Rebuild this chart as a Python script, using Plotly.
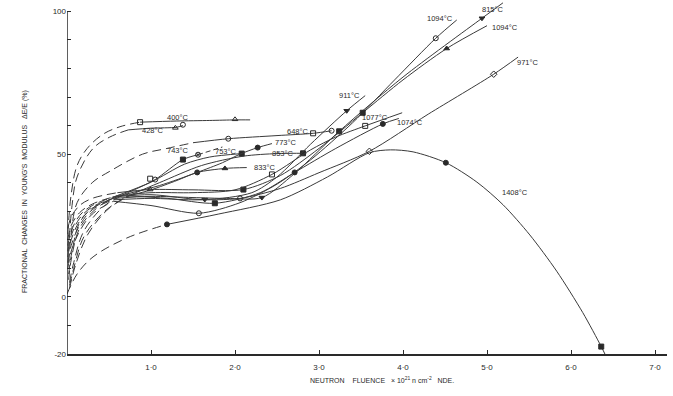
import plotly.graph_objects as go

# ---------------- data ----------------
# x: neutron fluence (1e21 n cm^-2 NDE), y: fractional change in Young's modulus (%)

# 400 C
c400_dash_x = [0.01, 0.05, 0.12, 0.24, 0.43, 0.63, 0.87]
c400_dash_y = [22, 36, 46, 52, 57, 59.6, 61.2]
c400_x = [0.87, 1.3, 1.7, 2.0, 2.18]
c400_y = [61.2, 61.6, 61.8, 62.0, 62.0]
c400_pts_x = [0.87, 2.0]
c400_pts_y = [61.2, 62.2]

# 428 C
c428_dash_x = [0.02, 0.06, 0.12, 0.31, 0.51, 0.73]
c428_dash_y = [16, 32, 42, 52, 56, 58.5]
c428_x = [0.73, 1.0, 1.3, 1.38]
c428_y = [58.5, 59.1, 59.4, 60.0]
c428_pts_x = [1.29, 1.38]
c428_pts_y = [59.2, 60.3]

# 648 C
c648_dash_x = [0.02, 0.05, 0.12, 0.3, 0.51, 0.9, 1.19, 1.5]
c648_dash_y = [12, 22, 33, 40, 44, 50, 52, 54]
c648_x = [1.5, 1.92, 2.5, 2.93, 3.15]
c648_y = [54, 55.4, 56.5, 57.3, 58.2]
c648_pts_x = [1.92, 2.93, 3.15]
c648_pts_y = [55.4, 57.3, 58.2]

# 743 C
c743_dash_x = [0.02, 0.06, 0.15, 0.3, 0.51, 0.6]
c743_dash_y = [8, 16, 26, 31, 34, 35]
c743_x = [0.6, 0.8, 1.05, 1.38, 1.56]
c743_y = [35, 37.5, 41.1, 48.1, 49.8]
c743_tail_x = [1.56, 1.85]
c743_tail_y = [49.8, 52.5]
c743_pts_x = [0.99, 1.05, 1.38, 1.56]
c743_pts_y = [41.4, 41.1, 48.1, 49.8]

# 753 C
c753_dash_x = [0.02, 0.05, 0.15, 0.35, 0.6]
c753_dash_y = [6, 13, 24, 31, 35.5]
c753_x = [0.6, 1.0, 1.4, 1.7, 2.08]
c753_y = [35.5, 40.2, 46.5, 49.0, 50.2]
c753_pts_x = [2.08]
c753_pts_y = [50.2]

# 773 C
c773_dash_x = [0.03, 0.08, 0.2, 0.45, 0.7]
c773_dash_y = [5, 12, 23, 32, 36]
c773_x = [0.7, 1.1, 1.55, 1.85, 2.06, 2.27, 2.44]
c773_y = [36, 39, 43.6, 47, 50.0, 52.3, 53.7]
c773_pts_x = [1.55, 2.27]
c773_pts_y = [43.6, 52.3]

# 853 C
c853_dash_x = [0.03, 0.08, 0.2, 0.45, 0.7]
c853_dash_y = [4, 10, 21, 30, 35]
c853_x = [0.7, 1.1, 1.6, 2.1, 2.5, 2.85]
c853_y = [35, 40, 46, 49.3, 50.2, 50.3]
c853_pts_x = [2.81]
c853_pts_y = [50.3]

# 833 C
c833_dash_x = [0.03, 0.1, 0.25, 0.5, 0.75]
c833_dash_y = [3, 11, 22, 31, 35.5]
c833_x = [0.75, 1.0, 1.31, 1.55, 1.88, 2.14]
c833_y = [35.5, 37.5, 40.8, 43.6, 45.0, 45.3]
c833_pts_x = [1.88]
c833_pts_y = [45.0]

# 911 C
c911_dash_x = [0.01, 0.05, 0.15, 0.3, 0.55]
c911_dash_y = [20, 25, 29.5, 32.5, 35]
c911_x = [0.55, 1.0, 1.64, 2.2, 2.5, 2.9, 3.33, 3.55]
c911_y = [35, 35.8, 34.1, 36.5, 42, 53.5, 65.2, 70.5]
c911_pts_x = [1.64, 3.33]
c911_pts_y = [34.1, 65.2]

# 815 C
c815_dash_x = [0.01, 0.05, 0.15, 0.3, 0.55]
c815_dash_y = [14, 20, 26.5, 31, 34.5]
c815_x = [0.55, 1.0, 1.5, 1.9, 2.32, 2.7, 3.24, 4.0, 4.94, 5.19]
c815_y = [34.5, 35.2, 34.8, 34.5, 34.8, 43, 58, 77, 97.6, 103]
c815_pts_x = [2.32, 3.24, 4.94]
c815_pts_y = [34.8, 58, 97.6]

# 1094 C (open circles)
c1094a_dash_x = [0.01, 0.05, 0.15, 0.3, 0.55]
c1094a_dash_y = [10, 16, 23, 29, 33.5]
c1094a_x = [0.55, 1.0, 1.57, 2.06, 2.5, 2.9, 3.4, 3.9, 4.39, 4.64]
c1094a_y = [33.5, 32, 29.3, 33, 39.5, 48, 61, 76, 90.6, 97]
c1094a_pts_x = [1.57, 4.39]
c1094a_pts_y = [29.3, 90.6]

# 1094 C (triangles)
c1094b_dash_x = [0.01, 0.05, 0.15, 0.3, 0.6]
c1094b_dash_y = [24, 28, 32, 34.5, 36.5]
c1094b_x = [0.6, 0.99, 1.5, 2.1, 2.54, 3.0, 3.52, 4.0, 4.52, 5.0]
c1094b_y = [36.5, 37.6, 37.5, 37.6, 42.5, 52, 64.5, 76, 87, 95]
c1094b_pts_x = [0.99, 2.1, 3.52, 4.52]
c1094b_pts_y = [37.6, 37.6, 64.5, 87]

# 971 C
c971_dash_x = [0.01, 0.05, 0.15, 0.3, 0.55]
c971_dash_y = [12, 18, 25, 30.5, 34]
c971_x = [0.55, 1.0, 1.5, 2.06, 2.54, 3.0, 3.6, 4.3, 5.08, 5.37]
c971_y = [34, 34.5, 34, 34.5, 38, 43.5, 51, 64, 78, 84]
c971_pts_x = [2.06, 3.6, 5.08]
c971_pts_y = [34.5, 51, 78]

# 1077 C
c1077_dash_x = [0.01, 0.05, 0.15, 0.3, 0.6]
c1077_dash_y = [18, 23, 28.5, 32, 35.5]
c1077_x = [0.6, 1.0, 1.5, 2.0, 2.44, 2.9, 3.2, 3.55, 3.99]
c1077_y = [35.5, 36.5, 36.5, 37.5, 42.9, 51.5, 56, 59.9, 64.5]
c1077_pts_x = [2.44, 3.55]
c1077_pts_y = [42.9, 59.9]

# 1074 C
c1074_dash_x = [0.01, 0.05, 0.15, 0.3, 0.65]
c1074_dash_y = [16, 21.5, 27.5, 31.5, 35.5]
c1074_x = [0.65, 1.2, 1.76, 2.3, 2.71, 3.2, 3.76, 3.95]
c1074_y = [35.5, 34.5, 32.8, 36.5, 43.6, 52, 60.6, 62.5]
c1074_pts_x = [1.76, 2.71, 3.76]
c1074_pts_y = [32.8, 43.6, 60.6]

# 1408 C
c1408_dash_x = [0.0, 0.12, 0.31, 0.71, 1.19]
c1408_dash_y = [1, 8, 14, 20.6, 25.4]
c1408_x = [1.19, 1.8, 2.54, 3.1, 3.6, 3.85, 4.12, 4.51, 4.88, 5.19, 5.51, 5.83, 6.14, 6.36, 6.42]
c1408_y = [25.4, 29, 34, 42, 50.5, 51.5, 50.8, 47.0, 40.2, 32.3, 21.7, 9.0, -5.5, -17.4, -21]
c1408_pts_x = [1.19, 4.51, 6.36]
c1408_pts_y = [25.4, 47.0, -17.4]

labels = ["400°C", "428°C", "648°C", "743°C", "753°C", "773°C", "853°C", "833°C",
          "911°C", "815°C", "1094°C", "1094°C", "971°C", "1077°C", "1074°C", "1408°C"]

x_tick_vals = [1, 2, 3, 4, 5, 6, 7]
x_tick_text = ["1·0", "2·0", "3·0", "4·0", "5·0", "6·0", "7·0"]
y_tick_vals = [-20, 0, 50, 100]
y_tick_text = ["-20", "0", "50", "100"]

# ---------------- styling / placement ----------------
curves = [
    (c400_dash_x, c400_dash_y, c400_x, c400_y, c400_pts_x, c400_pts_y, ["square-open", "triangle-up-open"]),
    (c428_dash_x, c428_dash_y, c428_x, c428_y, c428_pts_x, c428_pts_y, ["triangle-up-open", "circle-open"]),
    (c648_dash_x, c648_dash_y, c648_x, c648_y, c648_pts_x, c648_pts_y, ["circle-open", "square-open", "circle-open"]),
    (c743_dash_x, c743_dash_y, c743_x, c743_y, c743_pts_x, c743_pts_y, ["square-open", "circle-open", "square", "circle-x-open"]),
    (c753_dash_x, c753_dash_y, c753_x, c753_y, c753_pts_x, c753_pts_y, ["square"]),
    (c773_dash_x, c773_dash_y, c773_x, c773_y, c773_pts_x, c773_pts_y, ["circle", "circle"]),
    (c853_dash_x, c853_dash_y, c853_x, c853_y, c853_pts_x, c853_pts_y, ["square"]),
    (c833_dash_x, c833_dash_y, c833_x, c833_y, c833_pts_x, c833_pts_y, ["triangle-up"]),
    (c911_dash_x, c911_dash_y, c911_x, c911_y, c911_pts_x, c911_pts_y, ["triangle-down", "triangle-down"]),
    (c815_dash_x, c815_dash_y, c815_x, c815_y, c815_pts_x, c815_pts_y, ["triangle-down", "square", "triangle-down"]),
    (c1094a_dash_x, c1094a_dash_y, c1094a_x, c1094a_y, c1094a_pts_x, c1094a_pts_y, ["circle-open", "circle-open"]),
    (c1094b_dash_x, c1094b_dash_y, c1094b_x, c1094b_y, c1094b_pts_x, c1094b_pts_y, ["triangle-up-open", "square", "square", "triangle-up"]),
    (c971_dash_x, c971_dash_y, c971_x, c971_y, c971_pts_x, c971_pts_y, ["circle-open", "diamond-open", "diamond-open"]),
    (c1077_dash_x, c1077_dash_y, c1077_x, c1077_y, c1077_pts_x, c1077_pts_y, ["square-open", "square-open"]),
    (c1074_dash_x, c1074_dash_y, c1074_x, c1074_y, c1074_pts_x, c1074_pts_y, ["square", "circle", "circle"]),
    (c1408_dash_x, c1408_dash_y, c1408_x, c1408_y, c1408_pts_x, c1408_pts_y, ["circle", "circle", "square"]),
]

# label anchors (left edge, data units)
label_pos = [(1.17, 62.9), (0.87, 58.3), (2.6, 58.0), (1.17, 51.4), (1.74, 51.0), (2.45, 54.0),
             (2.42, 50.3), (2.2, 45.5), (3.21, 70.6), (4.92, 100.8), (4.26, 97.4), (5.04, 94.2),
             (5.33, 82.0), (3.49, 62.8), (3.9, 61.2), (5.15, 36.6)]

INK = "#2a2a2a"
LINE = "#3a3a3a"
L, R, T, B = 67, 6, 0, 42
W, H = 673, 396
PW, PH = W - L - R, H - T - B

fig = go.Figure()
for dx, dy, sx, sy, px, py, syms in curves:
    fig.add_trace(go.Scatter(x=dx, y=dy, mode="lines", line=dict(color=LINE, width=1, dash="9px,5px", shape="spline"),
                             hoverinfo="skip", showlegend=False))
    fig.add_trace(go.Scatter(x=sx, y=sy, mode="lines", line=dict(color=LINE, width=1, shape="spline", smoothing=0.8),
                             showlegend=False))
    fig.add_trace(go.Scatter(x=px, y=py, mode="markers",
                             marker=dict(symbol=syms, size=5, color=INK, line=dict(color=INK, width=1)),
                             showlegend=False))

fig.add_trace(go.Scatter(x=c743_tail_x, y=c743_tail_y, mode="lines",
                         line=dict(color=LINE, width=1, dash="5px,3px"), showlegend=False))

for text, (lx, ly) in zip(labels, label_pos):
    fig.add_annotation(x=lx, y=ly, text=text, showarrow=False, xanchor="left", yanchor="middle",
                       font=dict(family="Liberation Sans", size=7.5, color=INK))

# y axis line from -20 to 100
fig.add_shape(type="line", xref="x", yref="y", x0=0, x1=0, y0=-20, y1=100,
              line=dict(color=INK, width=1.5))


def px2paper(px, py):
    return (px - L) / PW, (H - B - py) / PH


ax, ay = px2paper(382, 386)
fig.add_annotation(xref="paper", yref="paper", x=ax, y=ay, showarrow=False,
                   text="NEUTRON&nbsp;&nbsp;&nbsp;&nbsp;FLUENCE&nbsp;&nbsp;&nbsp;× 10<sup>21</sup> n cm<sup>-2</sup>&nbsp;&nbsp;&nbsp;NDE.",
                   font=dict(family="Liberation Sans", size=7, color=INK))
tx, ty = px2paper(19, 192)
fig.add_annotation(xref="paper", yref="paper", x=tx, y=ty, showarrow=False, textangle=-90,
                   text="FRACTIONAL&nbsp;&nbsp;CHANGES&nbsp;&nbsp;IN&nbsp;&nbsp;YOUNG'S&nbsp;&nbsp;MODULUS&nbsp;&nbsp;&nbsp;ΔE/E&nbsp;(%)",
                   font=dict(family="Liberation Sans", size=7, color=INK))

fig.update_layout(
    width=W, height=H, margin=dict(l=L, r=R, t=T, b=B),
    paper_bgcolor="white", plot_bgcolor="white",
    xaxis=dict(range=[0, PW / 84.0], showgrid=False, zeroline=False, showline=True, linecolor=INK, linewidth=1.5,
               ticks="inside", ticklen=4, tickcolor=INK, tickvals=x_tick_vals, ticktext=x_tick_text,
               tickfont=dict(family="Liberation Sans", size=8, color=INK), ticklabelstandoff=5),
    yaxis=dict(range=[-20, -20 + PH / 2.855], showgrid=False, zeroline=False, showline=False,
               ticks="inside", ticklen=4, tickcolor=INK, tickvals=y_tick_vals, ticktext=y_tick_text,
               tickfont=dict(family="Liberation Sans", size=8, color=INK),
               minor=dict(ticks="inside", ticklen=4, tickcolor=INK, tickvals=[-10, 10, 20, 30, 40, 60, 70, 80, 90],
                          showgrid=False)),
)

fig.write_html("out.html")
